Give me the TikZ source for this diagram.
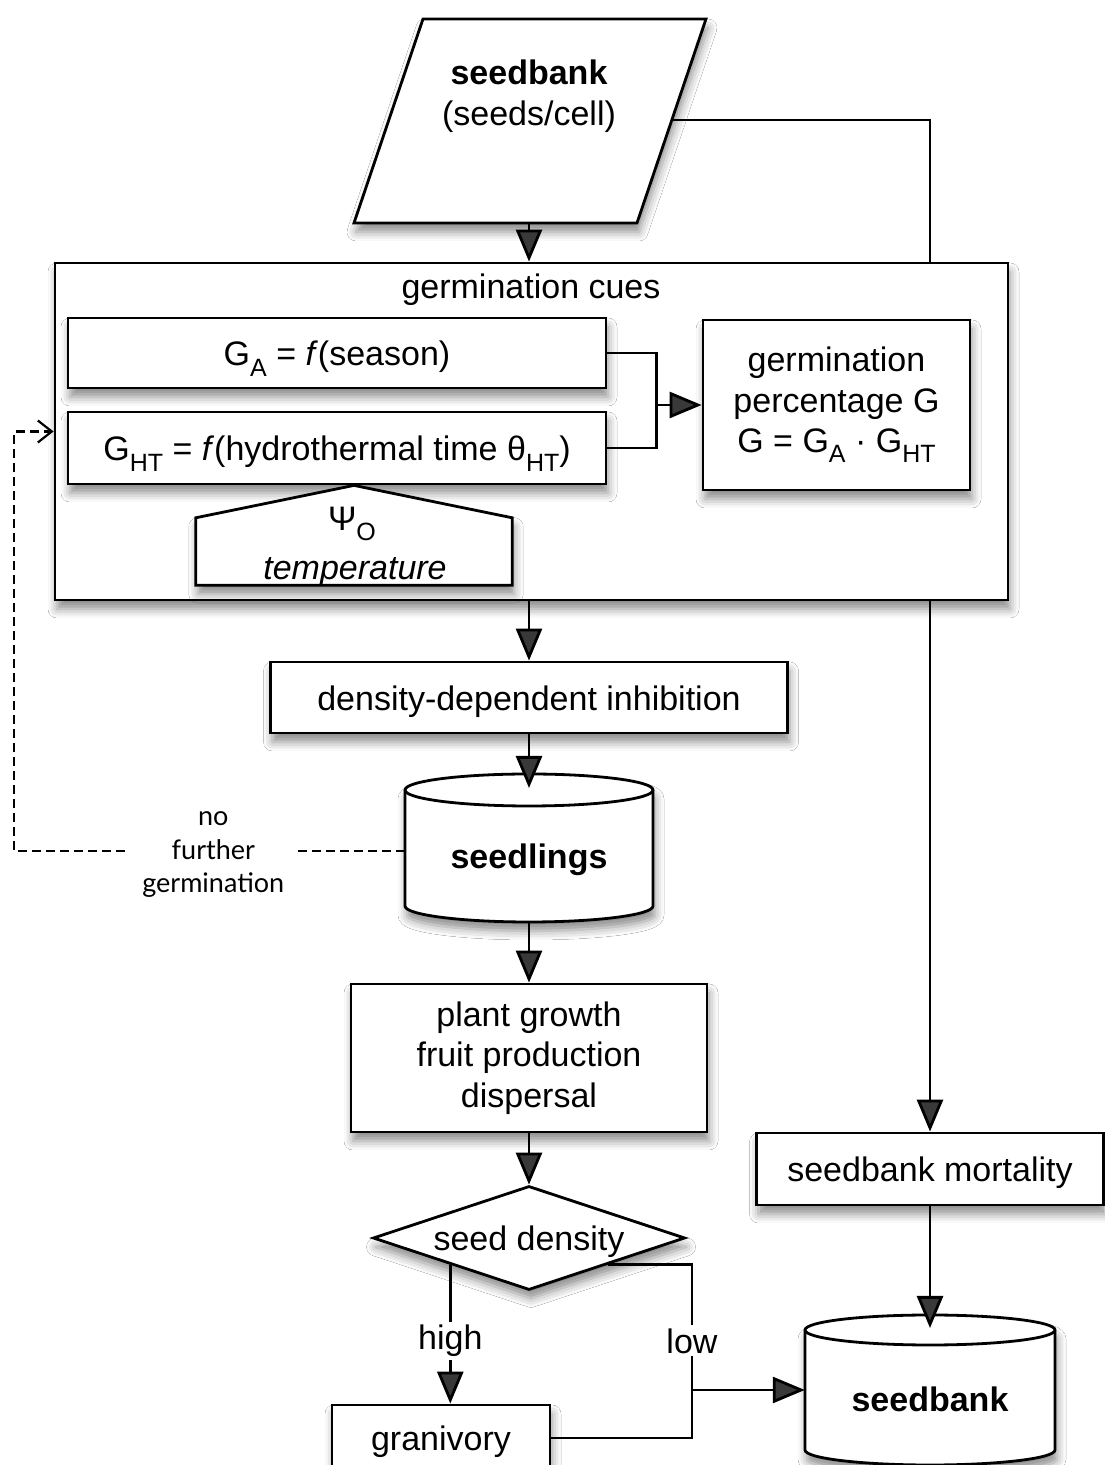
\documentclass[tikz,border=0pt]{standalone}
\usepackage{fontspec}
\setmainfont{Liberation Sans}
\newfontfamily\latofont{Lato}
\usetikzlibrary{arrows.meta,shapes.geometric,shadows.blur,calc}
\newcommand\sbs[1]{\raisebox{-0.3em}{\fontsize{25}{25}\selectfont #1}}
\newcommand\mycyl[5]{%
  \draw[box] (#1-#4,#2) -- (#1-#4,#3) arc[start angle=180,end angle=360,x radius=#4,y radius=#5] -- (#1+#4,#2) arc[start angle=0,end angle=180,x radius=#4,y radius=#5] -- cycle;
  \draw[line width=2.8pt] (#1-#4,#2) arc[start angle=180,end angle=360,x radius=#4,y radius=#5];
}
\tikzset{
  box/.style={draw, line width=2.8pt, fill=white, inner sep=0pt, align=center,
    blur shadow={shadow xshift=2pt, shadow yshift=-9pt, shadow blur radius=9pt, shadow opacity=45}},
  oneline/.style={text height=26pt, text depth=0pt},
  conn/.style={line width=2.8pt},
  arr/.style={conn, -{Triangle[length=32pt,width=26pt]}},
  lbl/.style={fill=white, inner sep=3pt},
}
\begin{document}
\begin{tikzpicture}[x=1pt,y=1pt,font=\fontsize{34}{40.5}\selectfont]
\useasboundingbox (0,0) rectangle (1104,1465);
\fill[white] (0,0) rectangle (1104,1465);

% top seedbank parallelogram
\draw[box] (354,1242) -- (637,1242) -- (706,1446) -- (423,1446) -- cycle;
\node[align=center] (sb) at (529,1369) {\bfseries seedbank\\(seeds/cell)};
\coordinate (sbB) at (529,1242);
\coordinate (sbR) at (671.8,1345);

% germination cues
\node[box, minimum width=953pt, minimum height=337pt] (gc) at (531.5,1033.5) {};
\node[oneline] (gcl) at (531,1179) {germination cues};
\node[box, oneline, minimum width=538pt, minimum height=70pt] (ga) at (337,1112) {G\sbs{A} = \textit{f}(season)};
\node[box, oneline, minimum width=538pt, minimum height=72pt] (ght) at (337,1017) {G\sbs{HT} = \textit{f}(hydrothermal time θ\sbs{HT})};
\node[box, minimum width=267pt, minimum height=170pt] (gp) at (836.5,1060) {germination\\percentage G\\G = G\sbs{A} · G\sbs{HT}};
\draw[conn] (ga.east) -- ++(49,0) coordinate (j1) |- (ght.east);
\draw[arr] (j1 |- gp.west) -- (gp.west);

% temperature pentagon
\node[minimum width=316pt, minimum height=67pt, inner sep=0pt] (tmp) at (354,913.5) {};
\draw[box] (tmp.south west) -- (tmp.north west) -- (tmp.north |- ght.south) -- (tmp.north east) -- (tmp.south east) -- cycle;
\node (psi) at (352,941) {Ψ\sbs{O}};
\node (tmpl) at (355,893) {\itshape temperature};

% density dependent inhibition
\node[box, oneline, minimum width=517pt, minimum height=71pt] (dd) at (529,767.5) {density-dependent inhibition};

% seedlings cylinder
\mycyl{529}{675}{559}{124}{16}
\node[oneline, minimum width=248pt, inner sep=0pt] (sdl) at (529,609) {\bfseries seedlings};
\coordinate (sdlTop) at (529,677);
\coordinate (sdlBot) at (529,543);

% plant growth
\node[box, minimum width=356pt, minimum height=148pt] (pl) at (529,407) {plant growth\\fruit production\\dispersal};

% diamond
\node[box, oneline, diamond, aspect=3, minimum width=312pt, minimum height=104pt] (sd) at (529,227) {seed density};

% granivory
\node[box, oneline, minimum width=218pt, minimum height=66pt] (gran) at (441,27) {granivory};

% seedbank mortality
\node[box, oneline, minimum width=347pt, minimum height=72pt] (mort) at (930,296) {seedbank mortality};

% seedbank cylinder
\mycyl{930}{135}{15}{125}{15}
\node[oneline, minimum width=250pt, inner sep=0pt] (sbk) at (930,66) {\bfseries seedbank};
\coordinate (sbkTop) at (930,137);

% connectors
\draw[arr] (sbB) -- (sbB |- gc.north);
\draw[conn] (sbR) -| (gc.north -| mort.north);
\draw[arr] (gc.south -| dd.north) -- (dd.north);
\draw[arr] (dd.south) -- (sdlTop);
\draw[arr] (sdlBot) -- (pl.north);
\draw[arr] (pl.south) -- (sd.north);
\draw[arr] (gc.south -| mort.north) -- (mort.north);
\draw[arr] (mort.south) -- (sbkTop);

\coordinate (hi) at ($(sd.west)!0.5!(sd.south)$);
\draw[arr] (hi) -- node[lbl, pos=0.55] {high} (hi |- gran.north);
\coordinate (lo) at ($(sd.east)!0.5!(sd.south)$);
\coordinate (lj) at (692,27);
\draw[conn] (lo) -| node[lbl, pos=0.72] {low} (lj) -- (gran.east);
\coordinate (lm) at (692,75);
\draw[arr] (lm) -- (lm -| sbk.west);

% feedback dashed
\coordinate (fb) at (14,614);
\draw[conn, line width=2.2pt, dash pattern=on 9pt off 5pt, -{Straight Barb[length=14pt,width=22pt]}]
  (fb -| sdl.west) -- node[fill=white, inner xsep=14pt, inner ysep=2pt, align=center, pos=0.49, yshift=-4pt,
   font=\latofont\fontsize{27}{33.5}\selectfont] {no\\further\\germination} (fb) |- (gc.west);
\end{tikzpicture}
\end{document}
